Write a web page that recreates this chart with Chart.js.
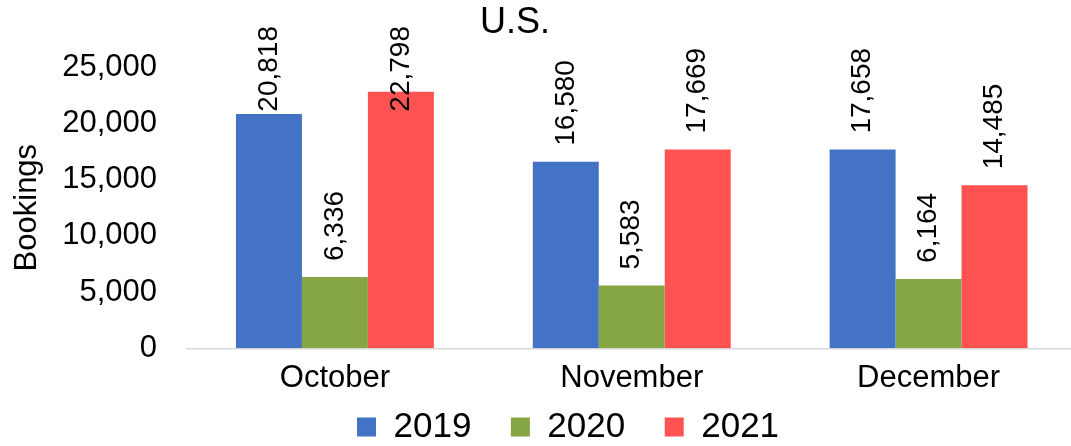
<!DOCTYPE html>
<html>
<head>
<meta charset="utf-8">
<title>U.S. Bookings</title>
<script src="https://cdn.jsdelivr.net/npm/chart.js@4/dist/chart.umd.min.js"></script>
<style>
  html, body { margin: 0; padding: 0; background: #ffffff; overflow: hidden; width: 1071px; height: 446px; }
  #wrap { width: 1077px; height: 494px; position: relative; }
</style>
</head>
<body>
<div id="wrap"><canvas id="chart"></canvas></div>
<script>
// Monthly bookings, U.S.
const months = ['October', 'November', 'December'];
const years = ['2019', '2020', '2021'];
const bookings2019 = [20818, 16580, 17658];
const bookings2020 = [6336, 5583, 6164];
const bookings2021 = [22798, 17669, 14485];
const yTicks = [0, 5000, 10000, 15000, 20000, 25000];
const chartTitle = 'U.S.';
const yAxisTitle = 'Bookings';

const seriesColors = ['#4472C4', '#86A645', '#FF5252'];
const FONT = '"Liberation Sans", Arial, Helvetica, sans-serif';

const fmt = v => v.toLocaleString('en-US');

// Rotated value labels above each bar, kept below the top edge
const valueLabels = {
  id: 'valueLabels',
  afterDatasetsDraw(chart) {
    const ctx = chart.ctx;
    const gap = 16, topLimit = 26;
    ctx.save();
    ctx.font = '28px ' + FONT;
    ctx.fillStyle = '#000000';
    chart.data.datasets.forEach((ds, di) => {
      const meta = chart.getDatasetMeta(di);
      meta.data.forEach((bar, i) => {
        const text = fmt(ds.data[i]);
        const w = ctx.measureText(text).width;
        let start = bar.y - gap;
        if (start - w < topLimit) start = topLimit + w;
        ctx.save();
        ctx.translate(bar.x, start);
        ctx.rotate(-Math.PI / 2);
        ctx.textAlign = 'left';
        ctx.textBaseline = 'middle';
        ctx.fillText(text, 0, 0);
        ctx.restore();
      });
    });
    ctx.restore();
  }
};

// Heading drawn slightly left of centre
const heading = {
  id: 'heading',
  afterDraw(chart) {
    const ctx = chart.ctx;
    ctx.save();
    ctx.font = '36px ' + FONT;
    ctx.fillStyle = '#000000';
    ctx.textAlign = 'center';
    ctx.textBaseline = 'alphabetic';
    ctx.fillText(chartTitle, 515, 33);
    ctx.restore();
  }
};

// Place the legend row just under the month labels
const legendPlacement = {
  id: 'legendPlacement',
  afterLayout(chart) {
    const lg = chart.legend;
    if (!lg || !lg.lineWidths) return;
    const pad = lg.options.labels.padding;
    const itemH = Math.max(lg.options.labels.boxHeight, lg.options.labels.font.size);
    const x0 = (lg.left + pad + lg.right - lg.lineWidths[0]) / 2;
    const dx = 357 - x0;
    lg.left += dx; lg.right += dx;
    const dy = 427 - (lg.top + pad + itemH / 2);
    lg.top += dy; lg.bottom += dy;
  }
};

new Chart(document.getElementById('chart'), {
  type: 'bar',
  data: {
    labels: months,
    datasets: [
      { label: years[0], data: bookings2019, backgroundColor: seriesColors[0] },
      { label: years[1], data: bookings2020, backgroundColor: seriesColors[1] },
      { label: years[2], data: bookings2021, backgroundColor: seriesColors[2] }
    ]
  },
  options: {
    responsive: true,
    maintainAspectRatio: false,
    animation: false,
    devicePixelRatio: 1,
    layout: { padding: { top: 67, right: 0, bottom: 0, left: 0 } },
    datasets: { bar: { barPercentage: 1, categoryPercentage: 0.6667, borderWidth: 0 } },
    plugins: {
      title: { display: false },
      tooltip: { enabled: false },
      legend: {
        display: true,
        position: 'bottom',
        labels: {
          boxWidth: 19,
          boxHeight: 19,
          padding: 39.5,
          color: '#000000',
          font: { family: FONT, size: 35 }
        }
      }
    },
    scales: {
      x: {
        grid: { display: false, drawTicks: false },
        border: { display: true, color: '#D9D9D9', width: 1.5 },
        ticks: { color: '#000000', font: { family: FONT, size: 31 }, padding: 12, maxRotation: 0, autoSkip: false }
      },
      y: {
        min: 0,
        max: 25000,
        afterBuildTicks(scale) { scale.ticks = yTicks.map(v => ({ value: v })); },
        grid: { display: false, drawTicks: false },
        border: { display: false },
        ticks: {
          color: '#000000',
          font: { family: FONT, size: 31 },
          padding: 29.5,
          callback: v => fmt(v)
        },
        title: {
          display: true,
          text: yAxisTitle,
          color: '#000000',
          font: { family: FONT, size: 31 },
          padding: { top: 9, bottom: 0 }
        },
        afterFit(scale) { scale.width = 186.5; }
      }
    }
  },
  plugins: [valueLabels, heading, legendPlacement]
});
</script>
</body>
</html>
